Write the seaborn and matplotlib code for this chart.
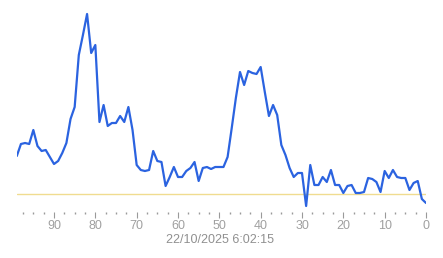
import matplotlib
matplotlib.use("Agg")
import matplotlib.pyplot as plt
import seaborn as sns
import pandas as pd
import numpy as np
from matplotlib.ticker import MultipleLocator

# seconds ago (99 -> 0)
seconds_ago = list(range(99, -1, -1))
values = [54, 66, 67, 66, 80, 64, 59, 60, 53, 46,
          49, 57, 67, 91, 103, 155, 175, 196, 157, 165,
          88, 105, 84, 87, 87, 94, 88, 103, 80, 45,
          40, 39, 40, 59, 49, 48, 24, 33, 43, 33,
          33, 39, 42, 48, 29, 42, 43, 41, 43, 43,
          43, 53, 82, 112, 138, 125, 139, 137, 136, 143,
          118, 94, 105, 95, 65, 55, 42, 33, 37, 37,
          4, 45, 25, 25, 33, 28, 40, 25, 25, 17,
          24, 25, 17, 17, 18, 32, 31, 28, 18, 39,
          32, 40, 33, 32, 32, 20, 27, 29, 11, 7]
threshold = 16
tick_values = [90, 80, 70, 60, 50, 40, 30, 20, 10, 0]
timestamp_label = "22/10/2025 6:02:15"

df = pd.DataFrame({"ago": seconds_ago, "value": values})

sns.set_theme(style="white")
plt.rcParams["font.family"] = ["Liberation Sans", "DejaVu Sans"]

W, H = 443, 258
fig = plt.figure(figsize=(W / 100, H / 100), dpi=100)
ax = fig.add_axes([16.8 / W, (H - 210) / H, (426 - 16.8) / W, 200 / H])

ax.axhline(threshold, color="#f0dc90", lw=1.0, zorder=1)
sns.lineplot(data=df, x="ago", y="value", ax=ax, color="#2b63e0", lw=1.6, zorder=3)

ax.set_xlim(99, 0)
ax.set_ylim(0, 200)
for s in ax.spines.values():
    s.set_visible(False)
ax.spines["bottom"].set_position(("outward", 1.5))
ax.set_yticks([])
ax.set_xticks(tick_values)
ax.set_xticklabels([str(t) for t in tick_values])
ax.xaxis.set_minor_locator(MultipleLocator(2.5))
ax.tick_params(axis="x", which="major", direction="out", length=4.5, width=0.8,
               color="#9a9a9a", labelcolor="#a0a0a0", labelsize=9, pad=1,
               bottom=True)
ax.tick_params(axis="x", which="minor", direction="out", length=1.2, width=1.0,
               color="#9a9a9a", bottom=True)
ax.set_xlabel("")
ax.set_ylabel("")
ax.grid(False)
ax.set_facecolor("white")

fig.text(219.5 / W, 1 - 240 / H, timestamp_label, ha="center", va="center",
         fontsize=9, color="#909090")

fig.savefig("out.png", dpi=100, facecolor="white")
